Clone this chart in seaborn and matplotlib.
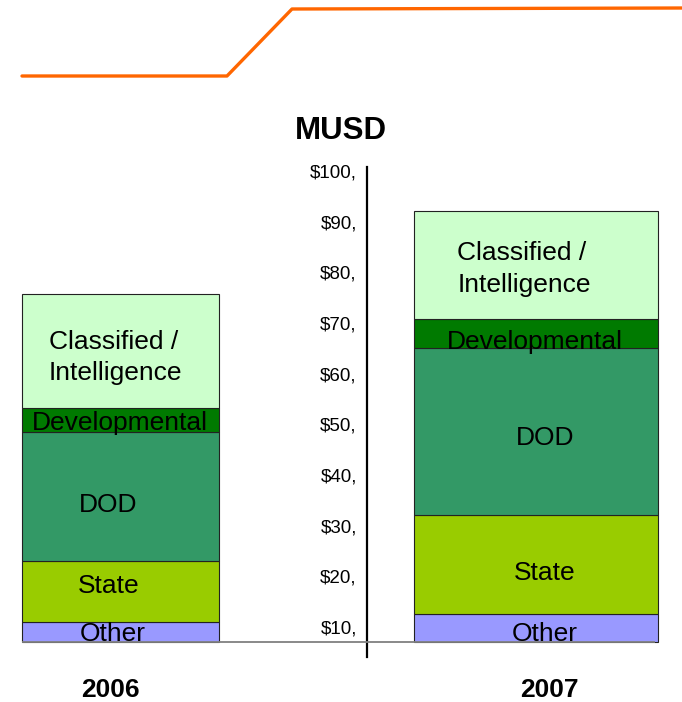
import numpy as np
import pandas as pd
import matplotlib.pyplot as plt
from matplotlib.lines import Line2D
import seaborn as sns

# ---------------------------------------------
# Data: stacked spend segments per year (MUSD)
# ---------------------------------------------
years = ["2006", "2007"]
segments = ["Other", "State", "DOD", "Developmental", "Classified /\nIntelligence"]
values_2006 = [3.9, 12.1, 25.4, 4.8, 22.4]
values_2007 = [5.5, 19.6, 32.9, 5.7, 21.3]
tick_values = [10, 20, 30, 40, 50, 60, 70, 80, 90, 100]
tick_labels = ["$10,", "$20,", "$30,", "$40,", "$50,", "$60,", "$70,", "$80,", "$90,", "$100,"]

# layout / style
BASE = 7.1  # where the axis floor sits on the value scale
colors = ["#9999FF", "#99CC00", "#339966", "#007A00", "#CCFFCC"]
bar_x = {"2006": 120.5, "2007": 536.0}
bar_w = {"2006": 197, "2007": 244}
year_dx = {"2006": -10, "2007": 13}
label_dx = {"2006": [-8, -12, -12, -1, -5], "2007": [9, 9, 9, -1, -12]}
label_dy = {"2006": [-0.4, 1.1, -1.7, -0.7, -1.3], "2007": [-1.2, -1.7, -1.4, -1.7, -0.8]}

rows = []
for yr, vals in zip(years, [values_2006, values_2007]):
    bottom = BASE
    for seg, v in zip(segments, vals):
        rows.append({"year": yr, "segment": seg, "value": v, "bottom": bottom})
        bottom += v
df = pd.DataFrame(rows)

sns.set_style("white")
plt.rcParams["font.family"] = ["Liberation Sans", "DejaVu Sans"]

fig = plt.figure(figsize=(6.82, 7.02), dpi=100)
ax = fig.add_axes([0, 45 / 702, 1, (657 - 166.7) / 702])

for _, r in df.iterrows():
    i = segments.index(r["segment"])
    sns.barplot(x=[bar_x[r["year"]]], y=[r["value"]], bottom=r["bottom"],
                native_scale=True, width=bar_w[r["year"]], errorbar=None,
                color=colors[i], saturation=1,
                edgecolor="#222222", linewidth=0.8, ax=ax)
    ax.text(bar_x[r["year"]] + label_dx[r["year"]][i],
            r["bottom"] + r["value"] / 2 + label_dy[r["year"]][i],
            r["segment"], ha="center", va="center", multialignment="left",
            fontsize=19, color="black", zorder=5, linespacing=1.38)

ax.set_xlim(0, 682)
ax.set_ylim(10 - (657 - 627) / 5.067, 10 + (627 - 166.7) / 5.067)

# axis floor line
ax.hlines(BASE, 22, 655, color="#808080", linewidth=1.3, zorder=4)

# y axis sits between the two bars
for s in ["top", "right", "bottom"]:
    ax.spines[s].set_visible(False)
ax.spines["left"].set_position(("data", 366.5))
ax.spines["left"].set_color("black")
ax.spines["left"].set_linewidth(1.6)
ax.set_yticks(tick_values)
ax.set_yticklabels(tick_labels, fontsize=13.5, color="black")
ax.tick_params(axis="y", length=0, pad=7)

ax.set_xticks([bar_x[y] + year_dx[y] for y in years])
ax.set_xticklabels(years, fontsize=19, fontweight="bold", color="black")
ax.tick_params(axis="x", length=0, pad=15)
ax.set_xlabel("")
ax.set_ylabel("")

fig.text(341 / 682, 1 - 131 / 702, "MUSD", ha="center", va="center",
         fontsize=22.5, fontweight="bold", color="black")

# decorative orange header line
px = np.array([22, 227, 292, 682]) / 682
py = 1 - np.array([76, 76, 9, 8]) / 702
fig.add_artist(Line2D(px, py, color="#FF6600", linewidth=2.4, transform=fig.transFigure))

plt.savefig("out.png", dpi=100)
